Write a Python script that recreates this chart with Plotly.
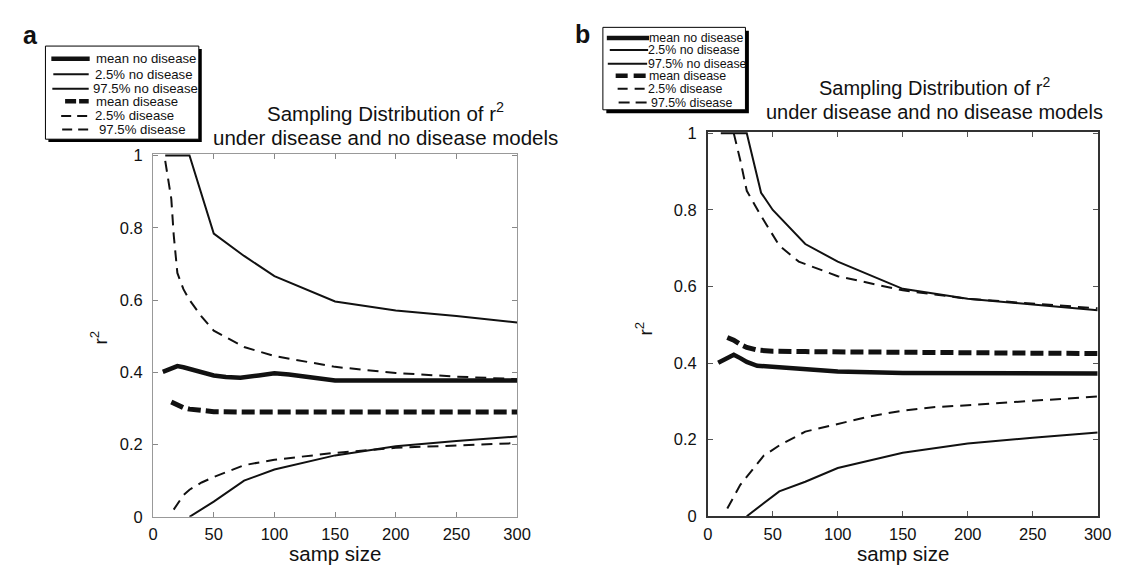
import plotly.graph_objects as go

W, H = 1127, 567

# ---------------- data ----------------
series_names = ["mean no disease", "2.5% no disease", "97.5% no disease",
                "mean disease", "2.5% disease", "97.5% disease"]

# panel a
a_mean_nd_x = [8, 15, 20, 25, 30, 40, 50, 60, 72, 87, 100, 112, 125, 150, 200, 250, 300]
a_mean_nd_y = [0.401, 0.410, 0.417, 0.414, 0.409, 0.399, 0.391, 0.387, 0.385, 0.391, 0.397, 0.394, 0.388, 0.377, 0.377, 0.377, 0.377]
a_lo_nd_x = [30, 50, 75, 100, 150, 200, 250, 300]
a_lo_nd_y = [0.0, 0.042, 0.100, 0.131, 0.170, 0.195, 0.210, 0.222]
a_hi_nd_x = [10, 30, 50, 75, 100, 150, 200, 250, 300]
a_hi_nd_y = [1.0, 1.0, 0.784, 0.722, 0.666, 0.596, 0.571, 0.556, 0.538]
a_mean_d_x = [15, 20, 25, 30, 40, 50, 75, 100, 150, 200, 250, 300]
a_mean_d_y = [0.318, 0.310, 0.302, 0.298, 0.293, 0.291, 0.290, 0.290, 0.290, 0.290, 0.290, 0.290]
a_lo_d_x = [17, 20, 25, 30, 40, 50, 75, 100, 150, 200, 250, 300]
a_lo_d_y = [0.020, 0.035, 0.060, 0.075, 0.095, 0.110, 0.143, 0.158, 0.177, 0.191, 0.198, 0.204]
a_hi_d_x = [10, 15, 17, 20, 25, 30, 40, 50, 75, 100, 150, 200, 250, 300]
a_hi_d_y = [0.985, 0.880, 0.780, 0.675, 0.630, 0.600, 0.554, 0.515, 0.470, 0.445, 0.415, 0.398, 0.388, 0.381]

# panel b
b_mean_nd_x = [8, 15, 20, 25, 30, 38, 50, 75, 100, 150, 200, 250, 300]
b_mean_nd_y = [0.401, 0.412, 0.422, 0.413, 0.403, 0.393, 0.390, 0.382, 0.378, 0.374, 0.373, 0.373, 0.373]
b_lo_nd_x = [30, 55, 75, 100, 150, 200, 250, 300]
b_lo_nd_y = [0.0, 0.065, 0.090, 0.126, 0.166, 0.190, 0.205, 0.219]
b_hi_nd_x = [10, 30, 41, 50, 75, 100, 150, 200, 250, 300]
b_hi_nd_y = [1.0, 1.0, 0.845, 0.800, 0.711, 0.665, 0.594, 0.568, 0.553, 0.538]
b_mean_d_x = [15, 20, 25, 30, 38, 50, 75, 100, 150, 200, 250, 300]
b_mean_d_y = [0.467, 0.460, 0.449, 0.441, 0.434, 0.431, 0.430, 0.429, 0.428, 0.427, 0.426, 0.425]
b_lo_d_x = [15, 25, 43, 55, 75, 100, 125, 150, 175, 200, 250, 300]
b_lo_d_y = [0.020, 0.082, 0.158, 0.185, 0.221, 0.242, 0.261, 0.276, 0.285, 0.290, 0.302, 0.313]
b_hi_d_x = [20, 25, 30, 40, 55, 70, 100, 150, 200, 250, 300]
b_hi_d_y = [1.0, 0.930, 0.850, 0.790, 0.707, 0.665, 0.627, 0.590, 0.568, 0.556, 0.543]

x_ticks = [0, 50, 100, 150, 200, 250, 300]
y_ticks = [0, 0.2, 0.4, 0.6, 0.8, 1]
y_tick_text = ["0", "0.2", "0.4", "0.6", "0.8", "1"]

# ---------------- styles ----------------
INK = "#111111"
styles = [
    dict(width=4.5, dash="solid"),
    dict(width=2.0, dash="solid"),
    dict(width=2.0, dash="solid"),
    dict(width=5.0, dash="13px,5px"),
    dict(width=2.0, dash="11px,7px"),
    dict(width=2.0, dash="11px,7px"),
]

def X(px):
    return px / W

def Y(py):
    return 1 - py / H

fig = go.Figure()

panel_a = [(a_mean_nd_x, a_mean_nd_y), (a_lo_nd_x, a_lo_nd_y), (a_hi_nd_x, a_hi_nd_y),
           (a_mean_d_x, a_mean_d_y), (a_lo_d_x, a_lo_d_y), (a_hi_d_x, a_hi_d_y)]
panel_b = [(b_mean_nd_x, b_mean_nd_y), (b_lo_nd_x, b_lo_nd_y), (b_hi_nd_x, b_hi_nd_y),
           (b_mean_d_x, b_mean_d_y), (b_lo_d_x, b_lo_d_y), (b_hi_d_x, b_hi_d_y)]

for (xs, ys), name, st in zip(panel_a, series_names, styles):
    fig.add_trace(go.Scatter(x=xs, y=ys, mode="lines", name=name, showlegend=False,
                             line=dict(color=INK, width=st["width"], dash=st["dash"]),
                             xaxis="x", yaxis="y"))
for (xs, ys), name, st in zip(panel_b, series_names, styles):
    fig.add_trace(go.Scatter(x=xs, y=ys, mode="lines", name=name, showlegend=False,
                             line=dict(color=INK, width=st["width"], dash=st["dash"]),
                             xaxis="x2", yaxis="y2"))

YTOP = 1.004
a_y0, a_y1 = 516.3, 143.8
b_y0, b_y1 = 515.7, 121.0
a_top = a_y0 - (a_y0 - a_y1) * YTOP
b_top = b_y0 - (b_y0 - b_y1) * YTOP

TF = "Liberation Sans, Arial, sans-serif"
tickfont = dict(family=TF, size=16.5, color="#111")

def xax(domain, linecolor, linewidth, tickcolor):
    return dict(domain=domain, range=[0, 300], tickvals=x_ticks, ticks="inside", ticklen=5,
                tickcolor=tickcolor, tickwidth=1, showline=True, linecolor=linecolor,
                linewidth=linewidth, mirror="ticks", showgrid=False, zeroline=False,
                tickfont=tickfont, ticklabelstandoff=2, fixedrange=True)

def yax(domain, linecolor, linewidth, tickcolor, anchor):
    return dict(domain=domain, range=[0, YTOP], tickvals=y_ticks, ticktext=y_tick_text,
                ticks="inside", ticklen=5, tickcolor=tickcolor, tickwidth=1, showline=True,
                linecolor=linecolor, linewidth=linewidth, mirror="ticks", showgrid=False,
                zeroline=False, tickfont=tickfont, ticklabelstandoff=6, anchor=anchor,
                fixedrange=True)

shapes = []
annotations = []

def draw_legend(box, shadow, rows, fsize):
    x0, y0, x1, y1 = box
    shapes.append(dict(type="rect", xref="paper", yref="paper", x0=X(x0 + shadow), x1=X(x1 + shadow),
                       y0=Y(y1 + shadow), y1=Y(y0 + shadow), fillcolor="#000", line=dict(width=0)))
    shapes.append(dict(type="rect", xref="paper", yref="paper", x0=X(x0), x1=X(x1),
                       y0=Y(y1), y1=Y(y0), fillcolor="white", line=dict(color="#000", width=1)))
    for name, st, (yy, lx0, lx1, tx, dash) in zip(series_names, styles, rows):
        shapes.append(dict(type="line", xref="paper", yref="paper", x0=X(lx0), x1=X(lx1),
                           y0=Y(yy), y1=Y(yy),
                           line=dict(color=INK, width=min(st["width"], 4.5), dash=dash)))
        annotations.append(dict(text=name, xref="paper", yref="paper", x=X(tx), y=Y(yy),
                                xanchor="left", yanchor="middle", showarrow=False,
                                font=dict(family=TF, size=fsize, color="#111")))

draw_legend((33, 31, 189, 127), 3, [
    (44, 39, 78, 82, "solid"),
    (60, 41, 77, 81.5, "solid"),
    (75, 40, 77, 79.5, "solid"),
    (88, 53, 77, 82, "11px,3px"),
    (103, 49, 76, 81.5, "10px,6px"),
    (117, 50, 77, 85, "10px,6px"),
], 13.2)

draw_legend((600, 11.7, 745, 96.7), 3.5, [
    (22.7, 604, 647, 645, "solid"),
    (35, 607, 646, 644, "solid"),
    (49.3, 605, 645, 644, "solid"),
    (61.7, 613, 645, 645, "12px,6px"),
    (75, 615, 643, 644, "10px,7px"),
    (89.3, 616, 645, 647, "11px,6px"),
], 12.4)

def label(text, x, y, size, bold=False, angle=0):
    annotations.append(dict(text=("<b>%s</b>" % text) if bold else text, xref="paper", yref="paper",
                            x=X(x), y=Y(y), xanchor="center", yanchor="middle", showarrow=False,
                            textangle=angle, font=dict(family=TF, size=size, color="#111")))

label("a", 17.5, 19.5, 25, bold=True)
label("b", 579, 19, 25, bold=True)

label("Sampling Distribution of r<sup>2</sup>", 378.5, 98.5, 20.5)
label("under disease and no disease models", 378.5, 125, 20.5)
label("Sampling Distribution of r<sup>2</sup>", 937, 73, 20)
label("under disease and no disease models", 937, 99, 20)

label("samp size", 327.5, 554.5, 20.5)
label("samp size", 905, 554.5, 20.5)
label("r<sup>2</sup>", 88, 332, 19, angle=-90)
label("r<sup>2</sup>", 642, 322, 19, angle=-90)

fig.update_layout(
    width=W, height=H,
    margin=dict(l=0, r=0, t=0, b=0),
    paper_bgcolor="white", plot_bgcolor="white",
    font=dict(family=TF, color="#111"),
    showlegend=False,
    xaxis=xax([X(142.5), X(512.7)], "#999", 1, "#888"),
    yaxis=yax([Y(a_y0), Y(a_top)], "#999", 1, "#888", "x"),
    xaxis2=xax([X(706.7), X(1103.3)], "#333", 1.5, "#555"),
    yaxis2=yax([Y(b_y0), Y(b_top)], "#333", 1.5, "#555", "x2"),
    shapes=shapes,
    annotations=annotations,
)
fig.update_layout(xaxis2=dict(anchor="y2"), xaxis=dict(anchor="y"))

fig.write_html("out.html")
